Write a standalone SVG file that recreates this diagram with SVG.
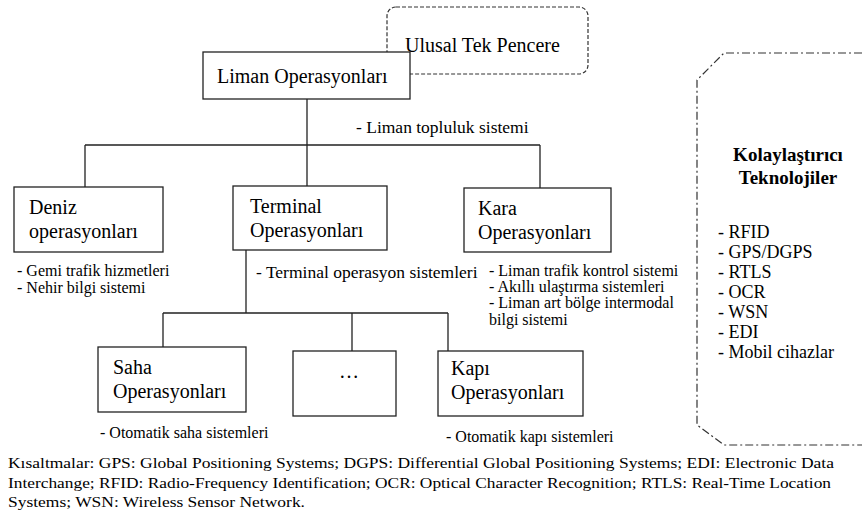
<svg xmlns="http://www.w3.org/2000/svg" width="862" height="522" viewBox="0 0 862 522" font-family="'Liberation Serif', 'DejaVu Serif', serif">
<style>
.box{fill:#fff;stroke:#222;stroke-width:1.3}
.ln{fill:none;stroke:#222;stroke-width:1.3}
text{font-family:'Liberation Serif','DejaVu Serif',serif;fill:#000}
.lbl{font-size:20px}
.sub{font-size:16px}
.sub17{font-size:17.5px}
.tech{font-size:18px}
.ttl{font-size:19px;font-weight:bold}
.foot{font-size:15px}
.dash{fill:none;stroke:#333;stroke-width:1.2;stroke-dasharray:4 2}
.dd{fill:none;stroke:#333;stroke-width:1.2;stroke-dasharray:8 3 2 3}
</style>
<rect width="862" height="522" fill="#fff"/>
<g id="ulusal">
<rect class="dash" x="387" y="7" width="201" height="67" rx="9"/>
<text class="lbl" x="405" y="52">Ulusal Tek Pencere</text>
</g>
<g id="connectors">
<path class="ln" d="M307 99V145M85 145H540M85 145V187M307 145V186M540 145V188"/>
<path class="ln" d="M246 250V313M163 313H448M163 313V347M352 313V351M448 313V351"/>
</g>
<g id="liman">
<rect class="box" x="203" y="52" width="207" height="47"/>
<text class="lbl" x="217" y="83">Liman Operasyonları</text>
</g>
<text class="sub17" x="356" y="133">- Liman topluluk sistemi</text>
<g id="deniz">
<rect class="box" x="14" y="187" width="149" height="65"/>
<text class="lbl" x="29" y="214">Deniz</text>
<text class="lbl" x="29" y="238">operasyonları</text>
<text class="sub" x="17" y="276">- Gemi trafik hizmetleri</text>
<text class="sub" x="17" y="293">- Nehir bilgi sistemi</text>
</g>
<g id="terminal">
<rect class="box" x="233" y="186" width="154" height="64"/>
<text class="lbl" x="250" y="213">Terminal</text>
<text class="lbl" x="250" y="237">Operasyonları</text>
<text class="sub17" x="256" y="278">- Terminal operasyon sistemleri</text>
</g>
<g id="kara">
<rect class="box" x="464" y="188" width="147" height="64"/>
<text class="lbl" x="478" y="215">Kara</text>
<text class="lbl" x="478" y="239">Operasyonları</text>
<text class="sub" x="489" y="276">- Liman trafik kontrol sistemi</text>
<text class="sub" x="489" y="292">- Akıllı ulaştırma sistemleri</text>
<text class="sub" x="489" y="308">- Liman art bölge intermodal</text>
<text class="sub" x="489" y="325">bilgi sistemi</text>
</g>
<g id="saha">
<rect class="box" x="98" y="347" width="148" height="65"/>
<text class="lbl" x="113" y="374">Saha</text>
<text class="lbl" x="113" y="398">Operasyonları</text>
<text class="sub" x="100" y="438">- Otomatik saha sistemleri</text>
</g>
<g id="diger">
<rect class="box" x="293" y="351" width="103" height="65"/>
<text class="lbl" x="349" y="378" text-anchor="middle">…</text>
</g>
<g id="kapi">
<rect class="box" x="438" y="351" width="145" height="65"/>
<text class="lbl" x="451" y="375">Kapı</text>
<text class="lbl" x="451" y="399">Operasyonları</text>
<text class="sub" x="446" y="442">- Otomatik kapı sistemleri</text>
</g>
<g id="teknolojiler">
<path class="dd" d="M862 53H724L697 80V425L724 445H862"/>
<text class="ttl" x="788" y="161" text-anchor="middle">Kolaylaştırıcı</text>
<text class="ttl" x="788" y="184" text-anchor="middle">Teknolojiler</text>
<text class="tech" x="718" y="238">- RFID</text>
<text class="tech" x="718" y="258">- GPS/DGPS</text>
<text class="tech" x="718" y="278">- RTLS</text>
<text class="tech" x="718" y="298">- OCR</text>
<text class="tech" x="718" y="318">- WSN</text>
<text class="tech" x="718" y="338">- EDI</text>
<text class="tech" x="718" y="358">- Mobil cihazlar</text>
</g>
<g id="footnote">
<text class="foot" x="8" y="468" textLength="826" lengthAdjust="spacingAndGlyphs">Kısaltmalar: GPS: Global Positioning Systems; DGPS: Differential Global Positioning Systems; EDI: Electronic Data</text>
<text class="foot" x="8" y="488" textLength="823" lengthAdjust="spacingAndGlyphs">Interchange; RFID: Radio-Frequency Identification; OCR: Optical Character Recognition; RTLS: Real-Time Location</text>
<text class="foot" x="8" y="507" textLength="297" lengthAdjust="spacingAndGlyphs">Systems; WSN: Wireless Sensor Network.</text>
</g>
</svg>
